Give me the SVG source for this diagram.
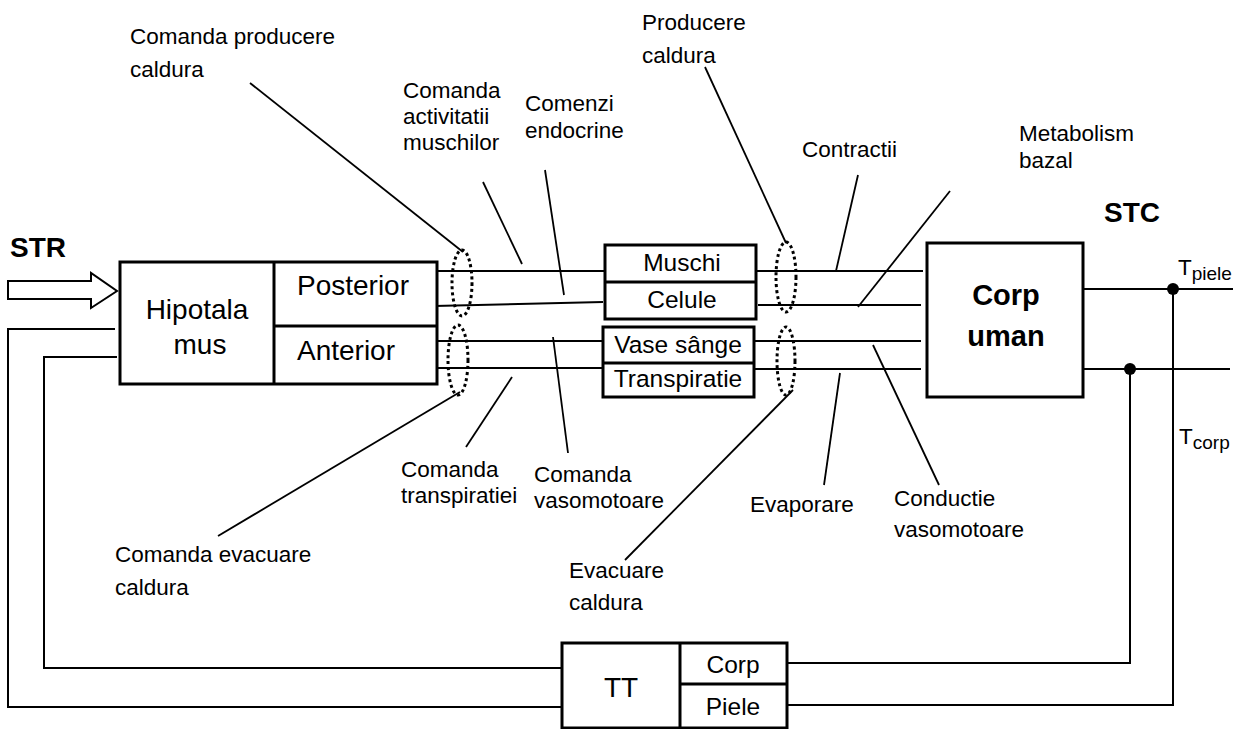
<svg xmlns="http://www.w3.org/2000/svg" width="1247" height="729" viewBox="0 0 1247 729">
  <style>
    .box { fill: #fff; stroke: #000; stroke-width: 3; }
    .div { stroke: #000; stroke-width: 3; fill: none; }
    .wire { stroke: #000; stroke-width: 2; fill: none; }
    .lead { stroke: #000; stroke-width: 1.8; fill: none; }
    .group { fill: none; stroke: #000; stroke-width: 3; stroke-dasharray: 3 3; }
    .lbl { font-family: "Liberation Sans", Arial, sans-serif; font-size: 22.5px; fill: #000; }
    .blk { font-family: "Liberation Sans", Arial, sans-serif; font-size: 28px; fill: #000; text-anchor: middle; }
    .sub { font-family: "Liberation Sans", Arial, sans-serif; font-size: 24.5px; fill: #000; text-anchor: middle; }
    .bold { font-family: "Liberation Sans", Arial, sans-serif; font-weight: bold; fill: #000; }
  </style>

  <!-- signal wires, feedback loops and leader lines -->
  <g id="connectors">
    <!-- set-point input arrow -->
    <polygon class="wire" points="8,281 91,281 91,273 117,291 91,308 91,299 8,299"/>

    <!-- hypothalamus to effectors -->
    <line class="wire" x1="437" y1="271" x2="605" y2="271"/>
    <line class="wire" x1="434" y1="306" x2="603" y2="302"/>
    <line class="wire" x1="437" y1="341" x2="603" y2="341"/>
    <line class="wire" x1="437" y1="368" x2="603" y2="368"/>

    <!-- effectors to body -->
    <line class="wire" x1="756" y1="271" x2="923" y2="271"/>
    <line class="wire" x1="758" y1="305" x2="921" y2="305"/>
    <line class="wire" x1="754" y1="341" x2="921" y2="341"/>
    <line class="wire" x1="754" y1="369" x2="921" y2="369"/>

    <!-- body outputs -->
    <line class="wire" x1="1083" y1="289" x2="1233" y2="289"/>
    <line class="wire" x1="1083" y1="369" x2="1230" y2="369"/>
    <circle cx="1173" cy="289" r="6" fill="#000"/>
    <circle cx="1130" cy="369" r="6" fill="#000"/>
    <polyline class="wire" points="1173,289 1173,705 787,705"/>
    <polyline class="wire" points="1130,369 1130,663 787,663"/>

    <!-- feedback to hypothalamus -->
    <polyline class="wire" points="562,668 44,668 44,357 117,357"/>
    <polyline class="wire" points="562,707 8,707 8,329 115,329"/>

    <!-- grouping ellipses -->
    <ellipse class="group" cx="462" cy="283" rx="10" ry="33"/>
    <ellipse class="group" cx="458" cy="360" rx="10" ry="35"/>
    <ellipse class="group" cx="786" cy="277" rx="10" ry="35"/>
    <ellipse class="group" cx="786" cy="361" rx="9" ry="34"/>

    <!-- leaders -->
    <line class="lead" x1="250" y1="83" x2="463" y2="252"/>
    <line class="lead" x1="483" y1="182" x2="522" y2="264"/>
    <line class="lead" x1="545" y1="170" x2="564" y2="295"/>
    <line class="lead" x1="705" y1="67" x2="786" y2="243"/>
    <line class="lead" x1="858" y1="175" x2="836" y2="271"/>
    <line class="lead" x1="950" y1="191" x2="858" y2="307"/>
    <line class="lead" x1="218" y1="536" x2="460" y2="392"/>
    <line class="lead" x1="512" y1="377" x2="466" y2="447"/>
    <line class="lead" x1="553" y1="337" x2="568" y2="453"/>
    <line class="lead" x1="625" y1="560" x2="793" y2="390"/>
    <line class="lead" x1="840" y1="373" x2="824" y2="485"/>
    <line class="lead" x1="873" y1="345" x2="939" y2="485"/>
  </g>

  <g id="hipotalamus">
    <rect class="box" x="120" y="262" width="317" height="122"/>
    <line class="div" x1="274" y1="262" x2="274" y2="384"/>
    <line class="div" x1="274" y1="326" x2="437" y2="326"/>
    <text class="blk" x="197" y="319">Hipotala</text>
    <text class="blk" x="200" y="354">mus</text>
    <text class="blk" x="353" y="295">Posterior</text>
    <text class="blk" x="346" y="360">Anterior</text>
  </g>

  <g id="efectori-caldura">
    <rect class="box" x="605" y="245" width="151" height="74"/>
    <line class="div" x1="605" y1="282" x2="756" y2="282"/>
    <text class="sub" x="682" y="271">Muschi</text>
    <text class="sub" x="682" y="308">Celule</text>
  </g>

  <g id="efectori-racire">
    <rect class="box" x="603" y="327" width="151" height="70"/>
    <line class="div" x1="603" y1="363" x2="754" y2="363"/>
    <text class="sub" x="678" y="353">Vase sânge</text>
    <text class="sub" x="678" y="387">Transpiratie</text>
  </g>

  <g id="corp-uman">
    <rect class="box" x="927" y="243" width="156" height="154"/>
    <text class="bold" x="1006" y="305" font-size="29" text-anchor="middle">Corp</text>
    <text class="bold" x="1006" y="346" font-size="29" text-anchor="middle">uman</text>
  </g>

  <g id="tt">
    <rect class="box" x="562" y="643" width="225" height="85"/>
    <line class="div" x1="680" y1="643" x2="680" y2="728"/>
    <line class="div" x1="680" y1="684" x2="787" y2="684"/>
    <text class="blk" x="621" y="697" font-size="27">TT</text>
    <text class="sub" x="733" y="673" font-size="23">Corp</text>
    <text class="sub" x="733" y="715" font-size="23">Piele</text>
  </g>

  <g id="etichete">
    <text class="bold" x="10" y="257" font-size="28">STR</text>
    <text class="bold" x="1104" y="222" font-size="28">STC</text>

    <text class="lbl" x="1178" y="275" font-size="23">T<tspan font-size="19" dy="5">piele</tspan></text>
    <text class="lbl" x="1179" y="444" font-size="23">T<tspan font-size="19" dy="5">corp</tspan></text>

    <text class="lbl" x="130" y="44">Comanda producere</text>
    <text class="lbl" x="130" y="77">caldura</text>

    <text class="lbl" x="403" y="98">Comanda</text>
    <text class="lbl" x="403" y="124">activitatii</text>
    <text class="lbl" x="403" y="150">muschilor</text>

    <text class="lbl" x="525" y="111">Comenzi</text>
    <text class="lbl" x="525" y="138">endocrine</text>

    <text class="lbl" x="642" y="30">Producere</text>
    <text class="lbl" x="642" y="63">caldura</text>

    <text class="lbl" x="802" y="157">Contractii</text>

    <text class="lbl" x="1019" y="141">Metabolism</text>
    <text class="lbl" x="1019" y="168">bazal</text>

    <text class="lbl" x="401" y="477">Comanda</text>
    <text class="lbl" x="401" y="503">transpiratiei</text>

    <text class="lbl" x="534" y="482">Comanda</text>
    <text class="lbl" x="534" y="508">vasomotoare</text>

    <text class="lbl" x="750" y="512">Evaporare</text>

    <text class="lbl" x="894" y="506">Conductie</text>
    <text class="lbl" x="894" y="537">vasomotoare</text>

    <text class="lbl" x="115" y="562">Comanda evacuare</text>
    <text class="lbl" x="115" y="595">caldura</text>

    <text class="lbl" x="569" y="578">Evacuare</text>
    <text class="lbl" x="569" y="610">caldura</text>
  </g>
</svg>
